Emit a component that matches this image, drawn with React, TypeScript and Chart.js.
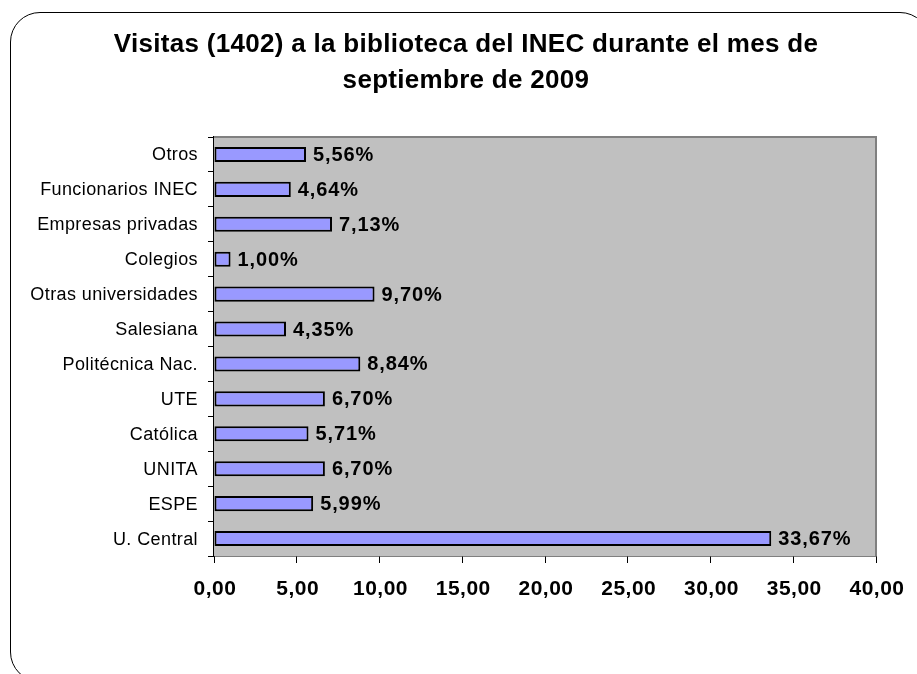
import React, { useEffect, useRef } from "react";
import { Chart, registerables } from "chart.js";

Chart.register(...registerables);

const titleLines = [
  "Visitas (1402) a la biblioteca del INEC durante el mes de",
  "septiembre de 2009",
];
const categories = [
  "Otros",
  "Funcionarios INEC",
  "Empresas privadas",
  "Colegios",
  "Otras universidades",
  "Salesiana",
  "Politécnica Nac.",
  "UTE",
  "Católica",
  "UNITA",
  "ESPE",
  "U. Central",
];
const values = [5.56, 4.64, 7.13, 1.0, 9.7, 4.35, 8.84, 6.7, 5.71, 6.7, 5.99, 33.67];
const valueLabels = [
  "5,56%", "4,64%", "7,13%", "1,00%", "9,70%", "4,35%",
  "8,84%", "6,70%", "5,71%", "6,70%", "5,99%", "33,67%",
];
const xTickValues = [0, 5, 10, 15, 20, 25, 30, 35, 40];
const xTickLabels = ["0,00", "5,00", "10,00", "15,00", "20,00", "25,00", "30,00", "35,00", "40,00"];

const FONT = "'Liberation Sans', Arial, sans-serif";

function setSpacing(ctx: any, px: number) {
  if ("letterSpacing" in ctx) ctx.letterSpacing = `${px}px`;
}

const decorPlugin = {
  id: "decor",
  beforeDatasetsDraw(chart: any) {
    const { ctx, chartArea } = chart;
    const { left, top, right, bottom } = chartArea;
    ctx.save();
    ctx.fillStyle = "#C0C0C0";
    ctx.fillRect(left, top, right - left, bottom - top);
    ctx.strokeStyle = "#808080";
    ctx.lineWidth = 2;
    ctx.beginPath();
    ctx.moveTo(left, top);
    ctx.lineTo(right, top);
    ctx.lineTo(right, bottom);
    ctx.stroke();
    ctx.restore();
  },
  afterDraw(chart: any) {
    const { ctx } = chart;
    const meta = chart.getDatasetMeta(0);
    const xs = chart.scales.x;
    const ys = chart.scales.y;
    ctx.save();
    ctx.fillStyle = "#000";

    // value labels
    ctx.font = `bold 20px ${FONT}`;
    setSpacing(ctx, 0.9);
    ctx.textAlign = "left";
    ctx.textBaseline = "middle";
    meta.data.forEach((bar: any, i: number) => {
      ctx.fillText(valueLabels[i], bar.x + 7, bar.y + 1);
    });

    // category labels
    ctx.font = `18px ${FONT}`;
    setSpacing(ctx, 0.4);
    ctx.textAlign = "right";
    ctx.textBaseline = "middle";
    categories.forEach((c, i) => {
      ctx.fillText(c, 198, ys.getPixelForValue(i) + 1);
    });

    // x tick labels
    ctx.font = `bold 21px ${FONT}`;
    setSpacing(ctx, 0.5);
    ctx.textAlign = "center";
    ctx.textBaseline = "alphabetic";
    xTickValues.forEach((v, i) => {
      ctx.fillText(xTickLabels[i], xs.getPixelForValue(v) + 1, 595);
    });

    // title
    ctx.font = `bold 26px ${FONT}`;
    setSpacing(ctx, 0.3);
    ctx.textAlign = "center";
    ctx.textBaseline = "alphabetic";
    ctx.fillText(titleLines[0], 466, 52);
    ctx.fillText(titleLines[1], 466, 88);
    ctx.restore();
  },
};

export default function App() {
  const ref = useRef<HTMLCanvasElement | null>(null);
  useEffect(() => {
    if (!ref.current) return;
    const chart = new Chart(ref.current, {
      type: "bar",
      data: {
        labels: categories,
        datasets: [
          {
            data: values,
            backgroundColor: "#9999FF",
            borderColor: "#000000",
            borderWidth: 2,
            borderSkipped: false,
            barPercentage: 0.5,
            categoryPercentage: 0.86,
          },
        ],
      },
      options: {
        indexAxis: "y",
        animation: false,
        responsive: false,
        maintainAspectRatio: false,
        layout: { padding: { left: 0, top: 137, right: 41, bottom: 0 } },
        plugins: {
          legend: { display: false },
          title: { display: false },
          tooltip: { enabled: false },
        },
        scales: {
          x: {
            type: "linear",
            min: 0,
            max: 40,
            afterFit: (s: any) => {
              s.height = 118;
            },
            ticks: {
              stepSize: 5,
              color: "rgba(0,0,0,0)",
              padding: 14,
              font: { family: FONT, size: 16, weight: "bold" },
              maxRotation: 0,
              autoSkip: false,
              callback: (_v: any, i: number) => xTickLabels[i],
            },
            grid: {
              display: true,
              drawOnChartArea: false,
              drawTicks: true,
              tickLength: 7,
              color: "#000",
            },
            border: { display: true, color: "#000", width: 1.5 },
          },
          y: {
            type: "category",
            afterFit: (s: any) => {
              s.width = 214;
            },
            ticks: {
              color: "rgba(0,0,0,0)",
              padding: 10,
              autoSkip: false,
              font: { family: FONT, size: 14 },
            },
            grid: {
              display: true,
              offset: true,
              drawOnChartArea: false,
              drawTicks: true,
              tickLength: 6,
              color: "#000",
            },
            border: { display: true, color: "#000", width: 1.5 },
          },
        },
      },
      plugins: [decorPlugin],
    });
    return () => chart.destroy();
  }, []);

  return (
    <div
      style={{
        position: "fixed",
        left: 0,
        top: 0,
        width: 917,
        height: 674,
        overflow: "hidden",
        background: "#fff",
      }}
    >
      <div
        style={{
          position: "absolute",
          left: 10,
          top: 12,
          width: 918,
          height: 668,
          border: "1.5px solid #000",
          borderRadius: 30,
        }}
      />
      <canvas
        ref={ref}
        width={917}
        height={674}
        style={{ position: "absolute", left: 0, top: 0, width: 917, height: 674 }}
      />
    </div>
  );
}
